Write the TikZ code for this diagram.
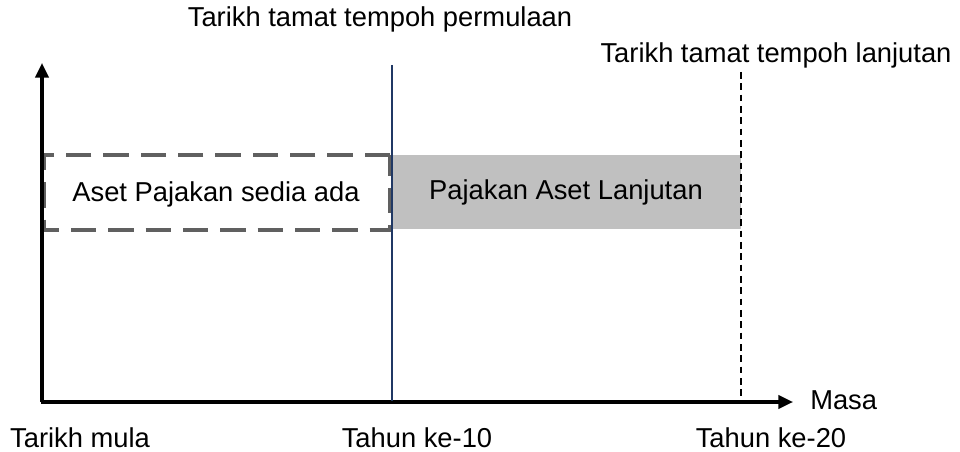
\documentclass[tikz,border=0pt]{standalone}
\usepackage{fontspec}
\setmainfont{Liberation Sans}
\usetikzlibrary{arrows.meta}
\definecolor{boxgray}{HTML}{606060}
\definecolor{fillgray}{HTML}{C0C0C0}
\definecolor{lineblue}{HTML}{203864}
\begin{document}
\begin{tikzpicture}[x=0.75pt,y=-0.75pt,
  axis/.style={line width=2.3pt,-{Triangle[length=11pt,width=10pt]}},
  lbl/.style={font=\fontsize{20.5}{24}\selectfont,inner sep=0pt},
  oldbox/.style={draw=boxgray,line width=3.6pt,dash pattern=on 19pt off 9pt},
  newbox/.style={fill=fillgray,draw=none}]
\useasboundingbox (0,0) rectangle (960,452);
% extended lease period
\node[newbox,minimum width=349*0.75pt,minimum height=74*0.75pt,anchor=north west] (ext) at (392,155) {};
\node[lbl] (extlbl) at (566,192) {Pajakan Aset Lanjutan};
% existing lease period
\draw[oldbox] (390,155) -- (44,155) -- (44,230) -- (390,230) -- cycle;
\coordinate (oldc) at (216,194);
\node[lbl] (oldlbl) at (oldc) {Aset Pajakan sedia ada};
% axes
\coordinate (o) at (42,402);
\coordinate (ytop) at (42,63);
\coordinate (xend) at (793,402);
\draw[axis] (o) -- (ytop);
\draw[axis] ([xshift=-1pt]o) -- (xend);
% period end markers
\coordinate (m1top) at (392,65);
\coordinate (m1bot) at (392,401);
\draw[lineblue,line width=1.6pt] (m1top) -- (m1bot);
\coordinate (m2top) at (741,72);
\coordinate (m2bot) at (741,401);
\draw[black,line width=1.6pt,dash pattern=on 5pt off 3.5pt] (m2top) -- (m2bot);
% labels
\node[lbl] (t1) at (380,19) {Tarikh tamat tempoh permulaan};
\node[lbl] (t2) at (776,55) {Tarikh tamat tempoh lanjutan};
\node[lbl,anchor=west] (masa) at (810,400) {Masa};
\node[lbl] (a0) at (80,438) {Tarikh mula};
\node[lbl] (a10) at (417,438) {Tahun ke-10};
\node[lbl] (a20) at (771,438) {Tahun ke-20};
\end{tikzpicture}
\end{document}
